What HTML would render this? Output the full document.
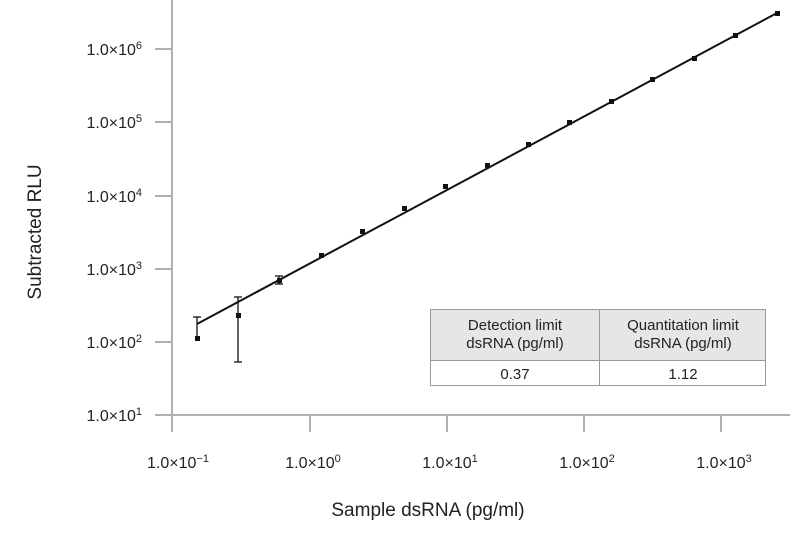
<!DOCTYPE html>
<html><head><style>
body{margin:0;background:#fff;}
svg text{font-family:"Liberation Sans",sans-serif;fill:#222;}
</style></head><body>
<svg width="807" height="532" xmlns="http://www.w3.org/2000/svg">
<g stroke="#b0b0b0" stroke-width="2">
<line x1="172" y1="0" x2="172" y2="432"/>
<line x1="155" y1="415" x2="790" y2="415"/>
<line x1="155" y1="49" x2="172" y2="49"/>
<line x1="155" y1="122" x2="172" y2="122"/>
<line x1="155" y1="196" x2="172" y2="196"/>
<line x1="155" y1="269" x2="172" y2="269"/>
<line x1="155" y1="342" x2="172" y2="342"/>
<line x1="310" y1="415" x2="310" y2="432"/>
<line x1="447" y1="415" x2="447" y2="432"/>
<line x1="584" y1="415" x2="584" y2="432"/>
<line x1="721" y1="415" x2="721" y2="432"/>
</g>
<g font-size="16" text-anchor="end">
<text x="142" y="55">1.0×10<tspan font-size="11" dy="-6">6</tspan></text>
<text x="142" y="128">1.0×10<tspan font-size="11" dy="-6">5</tspan></text>
<text x="142" y="202">1.0×10<tspan font-size="11" dy="-6">4</tspan></text>
<text x="142" y="275">1.0×10<tspan font-size="11" dy="-6">3</tspan></text>
<text x="142" y="348">1.0×10<tspan font-size="11" dy="-6">2</tspan></text>
<text x="142" y="421">1.0×10<tspan font-size="11" dy="-6">1</tspan></text>
</g>
<g font-size="16" text-anchor="middle">
<text x="178" y="468">1.0×10<tspan font-size="11" dy="-6">−1</tspan></text>
<text x="313" y="468">1.0×10<tspan font-size="11" dy="-6">0</tspan></text>
<text x="450" y="468">1.0×10<tspan font-size="11" dy="-6">1</tspan></text>
<text x="587" y="468">1.0×10<tspan font-size="11" dy="-6">2</tspan></text>
<text x="724" y="468">1.0×10<tspan font-size="11" dy="-6">3</tspan></text>
</g>
<text x="428" y="516" font-size="19" text-anchor="middle">Sample dsRNA (pg/ml)</text>
<text transform="translate(41,232) rotate(-90)" font-size="19" text-anchor="middle">Subtracted  RLU</text>
<line x1="197" y1="324" x2="777" y2="13" stroke="#111" stroke-width="2"/>
<g stroke="#111" stroke-width="1.3">
<line x1="197" y1="317" x2="197" y2="338"/><line x1="193" y1="317" x2="201" y2="317"/>
<line x1="238" y1="297" x2="238" y2="362"/><line x1="234" y1="297" x2="242" y2="297"/><line x1="234" y1="362" x2="242" y2="362"/>
<line x1="279" y1="276" x2="279" y2="284"/><line x1="275" y1="276" x2="283" y2="276"/><line x1="275" y1="284" x2="283" y2="284"/>
</g>
<g fill="#111">
<rect x="195" y="336" width="5" height="5"/>
<rect x="236" y="313" width="5" height="5"/>
<rect x="277" y="278" width="5" height="5"/>
<rect x="319" y="253" width="5" height="5"/>
<rect x="360" y="229" width="5" height="5"/>
<rect x="402" y="206" width="5" height="5"/>
<rect x="443" y="184" width="5" height="5"/>
<rect x="485" y="163" width="5" height="5"/>
<rect x="526" y="142" width="5" height="5"/>
<rect x="567" y="120" width="5" height="5"/>
<rect x="609" y="99" width="5" height="5"/>
<rect x="650" y="77" width="5" height="5"/>
<rect x="692" y="56" width="5" height="5"/>
<rect x="733" y="33" width="5" height="5"/>
<rect x="775" y="11" width="5" height="5"/>
</g>
<rect x="430.5" y="309.5" width="335" height="51" fill="#e6e6e6"/>
<g stroke="#999" stroke-width="1" fill="none">
<rect x="430.5" y="309.5" width="335" height="76"/>
<line x1="430" y1="360.5" x2="766" y2="360.5"/>
<line x1="599.5" y1="309" x2="599.5" y2="386"/>
</g>
<g font-size="15" text-anchor="middle">
<text x="515" y="330">Detection limit</text>
<text x="515" y="348">dsRNA (pg/ml)</text>
<text x="683" y="330">Quantitation limit</text>
<text x="683" y="348">dsRNA (pg/ml)</text>
<text x="515" y="379">0.37</text>
<text x="683" y="379">1.12</text>
</g>
</svg>
</body></html>
